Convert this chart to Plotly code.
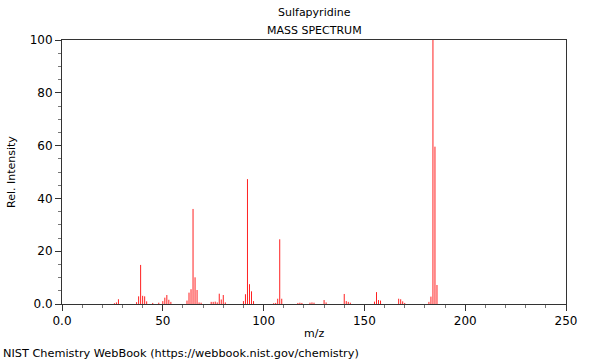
import plotly.graph_objects as go

# Peak positions (m/z) and relative intensities (%)
mz = [26, 27, 28, 37, 38, 39, 40, 41, 42, 45, 48, 50, 51, 52, 53, 54,
      62, 63, 64, 65, 66, 67, 68, 69, 74, 75, 76, 77, 78, 79, 80, 81,
      90, 91, 92, 93, 94, 95, 105, 106, 107, 108, 109, 117, 118, 119,
      123, 124, 125, 130, 131, 140, 141, 142, 143, 155, 156, 157, 158,
      167, 168, 169, 170, 182, 183, 184, 185, 186]
intensity = [0.3, 0.6, 1.8, 0.7, 2.9, 14.8, 3.1, 2.9, 1.0, 0.4, 0.5, 1.1, 2.4, 3.4, 1.6, 0.8,
             1.3, 4.3, 5.6, 36.0, 10.1, 5.3, 0.6, 0.5, 0.8, 0.8, 0.9, 0.6, 3.9, 1.7, 3.4, 0.6,
             1.1, 3.7, 47.3, 7.5, 4.8, 1.1, 0.3, 0.4, 2.0, 24.5, 2.0, 0.4, 0.5, 0.4,
             0.5, 0.6, 0.5, 1.5, 0.6, 3.8, 1.1, 0.8, 0.5, 0.9, 4.5, 1.5, 1.3,
             2.0, 1.8, 1.0, 0.4, 0.8, 2.8, 100.0, 59.6, 7.2]

x_tickvals = [0, 50, 100, 150, 200, 250]
x_ticktext = ["0.0", "50", "100", "150", "200", "250"]
y_tickvals = [0, 20, 40, 60, 80, 100]
y_ticktext = ["0.0", "20", "40", "60", "80", "100"]

FONT = "DejaVu Sans"
AX = "#333333"

# stick spectrum: vertical segments from 0 to each intensity
seg_x, seg_y = [], []
for m, v in zip(mz, intensity):
    seg_x += [m, m, None]
    seg_y += [0, v, None]

fig = go.Figure()
fig.add_trace(go.Scatter(x=seg_x, y=seg_y, mode="lines", connectgaps=False,
                         line=dict(color="#ff2020", width=1), hoverinfo="skip"))

fig.update_layout(
    width=600, height=360,
    margin=dict(l=62, r=34, t=40, b=56),
    paper_bgcolor="white", plot_bgcolor="white",
    font=dict(family=FONT, size=12, color="black"),
    showlegend=False,
    xaxis=dict(range=[0, 250], tickmode="array", tickvals=x_tickvals, ticktext=x_ticktext,
               ticks="outside", ticklen=6, tickcolor=AX, showline=True, linecolor=AX,
               linewidth=1, mirror=True, showgrid=False, zeroline=False,
               minor=dict(tickmode="linear", tick0=0, dtick=10, ticks="outside",
                          ticklen=3, tickcolor="#777777", showgrid=False)),
    yaxis=dict(range=[0, 100], tickmode="array", tickvals=y_tickvals, ticktext=y_ticktext,
               ticks="outside", ticklen=6, tickcolor=AX, showline=True, linecolor=AX,
               linewidth=1, mirror=True, showgrid=False, zeroline=False,
               minor=dict(tickmode="linear", tick0=0, dtick=5, ticks="outside",
                          ticklen=3, tickcolor="#777777", showgrid=False)),
)

def ann(text, x, y, xanchor="center", angle=0, size=11):
    fig.add_annotation(text=text, xref="paper", yref="paper", x=x, y=y,
                       xanchor=xanchor, yanchor="middle", showarrow=False,
                       textangle=angle, font=dict(family=FONT, size=size, color="black"))

ann("Sulfapyridine", 0.5, (304 - 13) / 264)
ann("MASS SPECTRUM", 0.5, (304 - 30) / 264)
ann("m/z", 0.5, (304 - 333) / 264)
ann("Rel. Intensity", (11 - 62) / 504, 0.5, angle=-90)
ann("NIST Chemistry WebBook (https://webbook.nist.gov/chemistry)", (1 - 62) / 504,
    (304 - 353) / 264, xanchor="left", size=11.3)

fig.write_html("out.html", config={"displayModeBar": False},
               post_script="document.body.style.margin='0';document.body.style.overflow='hidden';")
